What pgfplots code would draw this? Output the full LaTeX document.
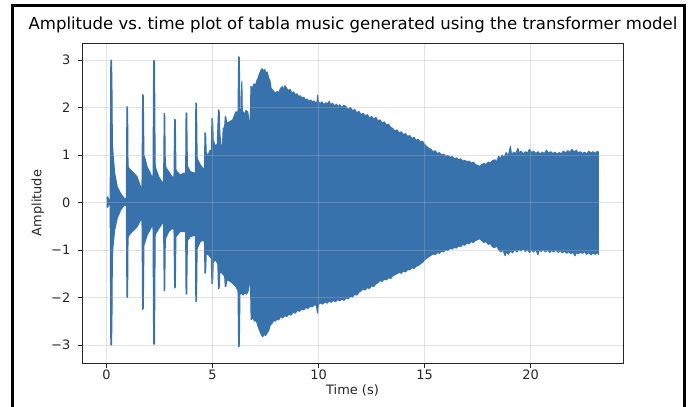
\documentclass[border=0pt]{standalone}
\usepackage{fontspec}
\setmainfont{DejaVu Sans}
\usepackage{pgfplots}
\pgfplotsset{compat=1.18}
\definecolor{wave}{RGB}{56,114,173}
\definecolor{gridc}{RGB}{176,176,176}
\begin{document}
\begin{tikzpicture}
\useasboundingbox (0,0) rectangle (694bp,-407bp);
\draw[line width=2.8bp] (12.2bp,-420bp) -- (12.2bp,-5.2bp) -- (684.6bp,-5.2bp) -- (684.6bp,-420bp);
\node[anchor=base, inner sep=0pt, font=\fontsize{16.6}{20}\selectfont] at (353bp,-29bp) {Amplitude vs.\ time plot of tabla music generated using the transformer model};
\node[anchor=base, inner sep=0pt, font=\fontsize{13}{15}\selectfont, text=black!85] at (352.5bp,-394bp) {Time (s)};
\node[anchor=base, rotate=90, inner sep=0pt, font=\fontsize{13}{15}\selectfont, text=black!85] at (41.3bp,-203bp) {Amplitude};
\begin{axis}[
  at={(82bp,-363bp)}, anchor=south west,
  width=541bp, height=320bp, scale only axis,
  xmin=-1.16, xmax=24.36, ymin=-3.38, ymax=3.36,
  xtick={0,5,10,15,20}, xticklabels={0,5,10,15,20},
  ytick={-3,-2,-1,0,1,2,3}, yticklabels={−3,−2,−1,0,1,2,3},
  tick align=outside, major tick length=4.5bp, tick pos=left,
  grid=major, grid style={gridc, opacity=0.35, line width=0.7bp},
  axis on top,
  axis line style={black!85, line width=0.9bp},
  tick style={black!85, line width=0.9bp},
  ticklabel style={font=\fontsize{13}{15}\selectfont, text=black!85},
  xticklabel style={inner sep=0pt, anchor=north, yshift=-2.5bp},
  yticklabel style={inner sep=0pt, anchor=east, xshift=-7bp},
]
\addplot[draw=wave, fill=wave, line width=1.1bp, line join=round] coordinates {
(0.00,0.10) (0.05,0.12) (0.10,0.06) (0.17,0.05) (0.20,3.00) (0.23,3.00) (0.25,2.55) (0.27,1.30) (0.30,1.05) (0.38,0.62) (0.50,0.33) (0.66,0.19) (0.82,0.09) (0.93,0.08)
(0.96,2.02) (0.99,2.00) (1.01,0.78) (1.05,0.72) (1.21,0.65) (1.32,0.60) (1.44,0.54) (1.60,0.33) (1.67,0.30)
(1.70,2.27) (1.73,2.25) (1.76,1.00) (1.79,0.96) (1.91,0.75) (2.07,0.61) (2.19,0.47)
(2.22,2.99) (2.26,2.99) (2.29,0.80) (2.32,0.72) (2.46,0.54) (2.62,0.43) (2.69,0.42)
(2.72,1.88) (2.74,1.86) (2.77,0.78) (2.82,0.72) (2.93,0.65) (3.09,0.54) (3.18,0.52)
(3.21,1.75) (3.24,1.74) (3.27,0.70) (3.32,0.65) (3.47,0.58) (3.66,0.62) (3.73,0.58)
(3.75,1.89) (3.78,1.88) (3.81,0.80) (3.83,0.75) (3.95,0.65) (4.14,0.62) (4.19,0.62)
(4.21,2.10) (4.24,2.08) (4.27,0.95) (4.31,0.89) (4.42,0.79) (4.58,0.70) (4.62,0.72)
(4.64,1.47) (4.67,1.45) (4.70,1.05) (4.78,0.98) (4.88,1.10) (4.94,1.05)
(4.97,1.77) (5.00,1.75) (5.03,1.31) (5.12,1.20) (5.22,1.22)
(5.28,1.95) (5.31,1.93) (5.34,1.45) (5.40,1.20) (5.45,1.00) (5.50,1.55) (5.57,1.60)
(5.60,1.81) (5.63,1.78) (5.67,1.67) (5.80,1.70) (5.95,1.74) (6.10,1.91) (6.20,1.90)
(6.23,3.07) (6.26,3.05) (6.29,1.95) (6.35,1.88) (6.38,2.55) (6.40,1.93) (6.50,1.86) (6.58,1.94) (6.66,1.90) (6.72,1.72) (6.78,1.70)
(6.81,2.45) (6.88,2.40) (6.95,2.50) (7.02,2.46) (7.08,2.56) (7.15,2.62) (7.22,2.72) (7.28,2.78) (7.34,2.82) (7.40,2.76) (7.46,2.80) (7.52,2.72) (7.58,2.75) (7.64,2.62) (7.70,2.58) (7.76,2.40) (7.82,2.38) (7.90,2.33) (7.98,2.30)
(8.05,2.34) (8.12,2.31) (8.20,2.40) (8.28,2.44) (8.35,2.38) (8.42,2.46) (8.50,2.40) (8.58,2.36) (8.66,2.38) (8.74,2.30) (8.82,2.33) (8.90,2.27) (8.98,2.29)
(9.06,2.23) (9.14,2.25) (9.22,2.19) (9.30,2.22) (9.38,2.16) (9.46,2.18) (9.54,2.13) (9.62,2.16) (9.70,2.12) (9.78,2.14) (9.86,2.10) (9.93,2.12) (9.96,2.26) (9.99,2.12)
(10.08,2.08) (10.16,2.12) (10.25,2.06) (10.34,2.10) (10.42,2.08) (10.50,2.13) (10.58,2.06) (10.66,2.09) (10.75,2.03) (10.84,2.07) (10.92,2.02)
(11.00,2.06) (11.10,2.00) (11.20,2.05) (11.30,2.01) (11.40,1.96) (11.50,2.00) (11.60,1.93) (11.70,1.96) (11.80,1.89) (11.90,1.92)
(12.00,1.85) (12.10,1.88) (12.20,1.82) (12.30,1.85) (12.40,1.78) (12.50,1.81) (12.60,1.76) (12.70,1.79) (12.80,1.72) (12.90,1.74)
(13.00,1.67) (13.10,1.70) (13.20,1.63) (13.30,1.65) (13.40,1.58) (13.50,1.56) (13.60,1.50) (13.70,1.53) (13.80,1.46) (13.90,1.49)
(14.00,1.43) (14.10,1.45) (14.20,1.39) (14.30,1.41) (14.40,1.35) (14.50,1.37) (14.60,1.31) (14.70,1.33) (14.80,1.27) (14.90,1.29)
(15.00,1.22) (15.10,1.18) (15.20,1.14) (15.30,1.12) (15.40,1.07) (15.50,1.09) (15.60,1.03) (15.70,1.05) (15.80,1.00) (15.90,1.02)
(16.00,0.97) (16.10,0.99) (16.20,0.95) (16.30,0.97) (16.40,0.92) (16.50,0.94) (16.60,0.90) (16.70,0.92) (16.80,0.87) (16.90,0.89)
(17.00,0.85) (17.10,0.87) (17.20,0.83) (17.30,0.85) (17.40,0.80) (17.50,0.78) (17.60,0.76) (17.70,0.80) (17.80,0.82) (17.90,0.80)
(18.00,0.85) (18.10,0.83) (18.20,0.88) (18.30,0.90) (18.40,0.86) (18.50,0.98) (18.55,0.90) (18.65,1.00) (18.75,0.95) (18.85,1.05) (18.95,0.98)
(19.05,1.18) (19.10,1.00) (19.20,1.06) (19.30,1.02) (19.40,1.14) (19.45,1.04) (19.55,1.08) (19.65,1.02) (19.75,1.07) (19.85,1.04) (19.95,1.12)
(20.05,1.05) (20.15,1.08) (20.25,1.03) (20.35,1.07) (20.45,1.02) (20.55,1.06) (20.65,1.03) (20.75,1.10) (20.85,1.04) (20.95,1.07)
(21.05,1.03) (21.15,1.06) (21.25,1.02) (21.35,1.05) (21.45,1.03) (21.55,1.08) (21.65,1.04) (21.75,1.09) (21.85,1.05) (21.95,1.12)
(22.05,1.06) (22.15,1.10) (22.25,1.04) (22.35,1.07) (22.45,1.03) (22.55,1.06) (22.65,1.02) (22.75,1.08) (22.85,1.04) (22.95,1.07)
(23.05,1.03) (23.15,1.08) (23.20,1.06)
(23.20,-1.09) (23.15,-1.05) (23.05,-1.09) (22.95,-1.06) (22.85,-1.10) (22.75,-1.05) (22.65,-1.09) (22.55,-1.03) (22.45,-1.07) (22.35,-1.04) (22.25,-1.08) (22.15,-1.05) (22.10,-1.12) (22.00,-1.04)
(21.90,-1.08) (21.80,-1.03) (21.70,-1.07) (21.60,-1.02) (21.50,-1.06) (21.40,-1.01) (21.30,-1.05) (21.20,-1.00) (21.10,-1.04) (21.00,-1.01)
(20.90,-1.05) (20.80,-1.00) (20.70,-1.04) (20.60,-0.99) (20.50,-1.03) (20.40,-1.00) (20.35,-1.10) (20.25,-0.99) (20.15,-1.04) (20.05,-1.00)
(19.95,-1.05) (19.85,-0.99) (19.75,-1.03) (19.65,-0.97) (19.55,-1.02) (19.45,-0.98) (19.35,-1.04) (19.25,-0.99) (19.15,-1.06) (19.05,-1.01)
(18.95,-1.09) (18.85,-1.03) (18.80,-1.12) (18.70,-1.00) (18.60,-1.04) (18.50,-1.00) (18.40,-0.91) (18.30,-0.95) (18.20,-0.93) (18.10,-0.86) (18.00,-0.88)
(17.90,-0.82) (17.80,-0.84) (17.70,-0.80) (17.60,-0.76) (17.50,-0.78) (17.40,-0.80) (17.30,-0.84) (17.20,-0.82) (17.10,-0.87) (17.00,-0.85)
(16.90,-0.90) (16.80,-0.88) (16.70,-0.93) (16.60,-0.91) (16.50,-0.96) (16.40,-0.94) (16.30,-0.98) (16.20,-0.96) (16.10,-1.01) (16.00,-0.99)
(15.90,-1.04) (15.80,-1.02) (15.70,-1.07) (15.60,-1.05) (15.50,-1.10) (15.40,-1.08) (15.30,-1.11) (15.20,-1.14) (15.10,-1.17) (15.00,-1.21)
(14.90,-1.26) (14.80,-1.29) (14.70,-1.33) (14.60,-1.34) (14.50,-1.39) (14.40,-1.37) (14.30,-1.42) (14.20,-1.41) (14.10,-1.46) (14.00,-1.44)
(13.90,-1.49) (13.80,-1.47) (13.70,-1.50) (13.60,-1.52) (13.50,-1.54) (13.40,-1.60) (13.30,-1.58) (13.20,-1.63) (13.10,-1.61) (13.00,-1.66)
(12.90,-1.64) (12.80,-1.69) (12.70,-1.71) (12.60,-1.77) (12.50,-1.75) (12.40,-1.81) (12.30,-1.79) (12.20,-1.84) (12.10,-1.82) (12.00,-1.86)
(11.90,-1.89) (11.80,-1.95) (11.70,-1.93) (11.60,-1.99) (11.50,-1.97) (11.40,-2.03) (11.30,-2.01) (11.20,-2.06) (11.10,-2.03) (11.00,-2.07)
(10.90,-2.04) (10.80,-2.09) (10.70,-2.06) (10.60,-2.10) (10.50,-2.07) (10.40,-2.12) (10.30,-2.09) (10.20,-2.14) (10.10,-2.11)
(9.99,-2.15) (9.95,-2.33) (9.90,-2.17) (9.80,-2.15) (9.70,-2.20) (9.60,-2.18) (9.50,-2.23) (9.40,-2.21) (9.30,-2.26) (9.20,-2.24) (9.10,-2.29) (9.00,-2.27)
(8.90,-2.33) (8.80,-2.31) (8.70,-2.37) (8.60,-2.35) (8.50,-2.40) (8.40,-2.38) (8.30,-2.43) (8.20,-2.40) (8.12,-2.47) (8.04,-2.45)
(7.96,-2.50) (7.88,-2.48) (7.80,-2.55) (7.72,-2.58) (7.64,-2.70) (7.58,-2.74) (7.50,-2.80) (7.42,-2.78) (7.36,-2.83) (7.30,-2.78) (7.22,-2.70) (7.14,-2.60) (7.06,-2.48) (6.98,-2.50) (6.90,-2.42) (6.82,-2.47)
(6.79,-1.72) (6.74,-1.70) (6.68,-1.86) (6.60,-1.93) (6.52,-1.90) (6.44,-1.95) (6.36,-1.90) (6.29,-1.94) (6.26,-3.02) (6.23,-3.04)
(6.20,-1.85) (6.10,-1.77) (5.95,-1.70) (5.80,-1.65) (5.67,-1.63) (5.63,-1.75) (5.60,-1.77)
(5.57,-1.55) (5.45,-1.49) (5.34,-1.45) (5.31,-1.80) (5.28,-1.82)
(5.25,-1.30) (5.15,-1.21) (5.03,-1.25) (5.00,-1.70) (4.97,-1.71)
(4.94,-1.18) (4.90,-1.15) (4.80,-1.10) (4.70,-1.07) (4.67,-1.47) (4.64,-1.49)
(4.62,-0.85) (4.58,-0.79) (4.42,-0.82) (4.31,-0.93) (4.27,-0.98) (4.24,-2.07) (4.21,-2.09)
(4.19,-0.70) (4.14,-0.69) (3.95,-0.72) (3.83,-0.79) (3.81,-0.82) (3.78,-1.92) (3.75,-1.93)
(3.73,-0.62) (3.66,-0.61) (3.47,-0.61) (3.32,-0.69) (3.27,-0.72) (3.24,-1.78) (3.21,-1.80)
(3.18,-0.56) (3.09,-0.55) (2.93,-0.61) (2.82,-0.72) (2.77,-0.76) (2.74,-1.85) (2.72,-1.86)
(2.69,-0.45) (2.62,-0.44) (2.46,-0.55) (2.32,-0.65) (2.29,-0.70) (2.26,-2.98) (2.22,-2.98)
(2.19,-0.44) (2.07,-0.55) (1.91,-0.69) (1.79,-0.86) (1.76,-0.90) (1.73,-2.23) (1.70,-2.25)
(1.67,-0.33) (1.60,-0.37) (1.44,-0.51) (1.21,-0.61) (1.05,-0.69) (1.01,-0.75) (0.99,-1.98) (0.96,-2.00)
(0.93,-0.06) (0.82,-0.06) (0.66,-0.16) (0.50,-0.33) (0.38,-0.58) (0.30,-0.93) (0.27,-1.20) (0.25,-2.55) (0.23,-3.00) (0.20,-3.00) (0.17,-0.05) (0.10,-0.05) (0.05,-0.10) (0.00,-0.09)
};
\end{axis}
\end{tikzpicture}
\end{document}
